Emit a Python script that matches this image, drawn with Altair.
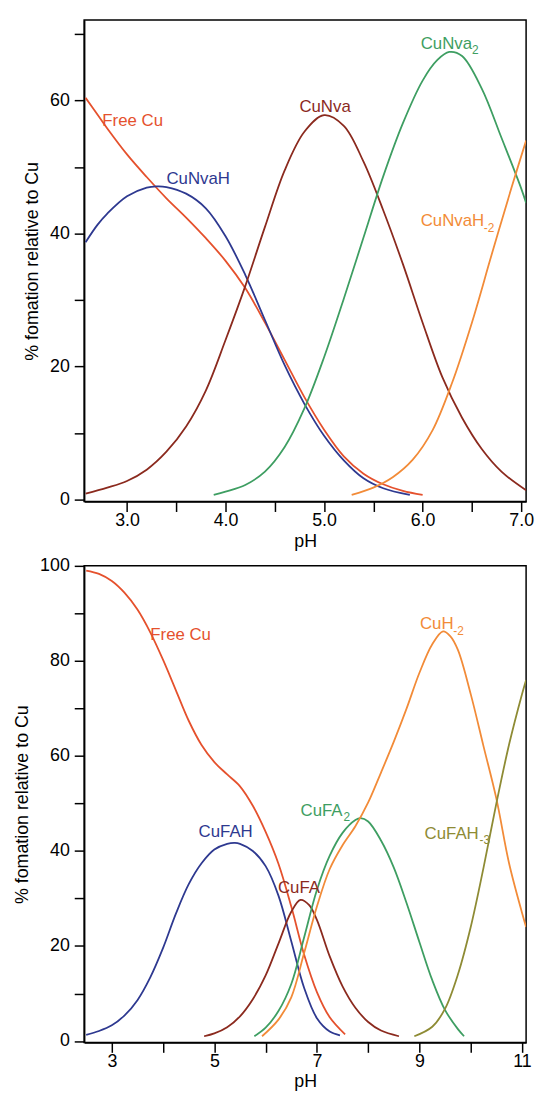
import altair as alt
import pandas as pd

FONT = "Liberation Sans"
YTITLE = "% fomation relative to Cu"

# ---------------- Top panel: Cu(II) – Nva ----------------
t_free_ph = [2.58, 2.7, 2.8, 3.0, 3.2, 3.4, 3.6, 3.8, 4.0, 4.2, 4.4, 4.6, 4.8, 5.0, 5.2, 5.4, 5.6, 5.8, 6.0]
t_free_val = [60.4, 57.9, 55.8, 51.9, 48.5, 45.3, 42.4, 39.3, 35.9, 31.8, 26.6, 21.0, 15.4, 10.5, 6.5, 3.9, 2.3, 1.3, 0.7]

t_h_ph = [2.58, 2.7, 2.8, 3.0, 3.2, 3.3, 3.4, 3.6, 3.8, 4.0, 4.2, 4.4, 4.6, 4.8, 5.0, 5.2, 5.4, 5.6, 5.87]
t_h_val = [38.7, 41.3, 43.0, 45.6, 46.9, 47.1, 47.0, 46.0, 43.8, 39.6, 33.8, 27.0, 20.2, 14.4, 9.6, 5.9, 3.2, 1.7, 0.7]

t_ml_ph = [2.58, 2.8, 3.0, 3.2, 3.4, 3.6, 3.8, 4.0, 4.2, 4.4, 4.6, 4.8, 5.0, 5.2, 5.4, 5.6, 5.8, 6.0, 6.2, 6.4, 6.6, 6.8, 7.05]
t_ml_val = [0.9, 1.8, 2.8, 4.5, 7.2, 11.0, 16.4, 24.0, 32.1, 41.0, 49.5, 55.3, 57.8, 56.2, 50.8, 43.5, 35.4, 26.6, 18.4, 12.3, 7.6, 4.2, 1.4]

t_ml2_ph = [3.88, 4.0, 4.2, 4.4, 4.6, 4.8, 5.0, 5.2, 5.4, 5.6, 5.8, 6.0, 6.15, 6.27, 6.4, 6.6, 6.8, 7.0, 7.05]
t_ml2_val = [0.7, 1.2, 2.2, 4.2, 7.9, 13.7, 21.4, 30.2, 39.4, 48.6, 56.6, 63.0, 66.1, 67.3, 66.7, 61.8, 54.4, 46.8, 44.6]

t_mh2_ph = [5.28, 5.5, 5.7, 5.9, 6.1, 6.3, 6.5, 6.7, 6.9, 7.05]
t_mh2_val = [0.7, 1.8, 3.4, 6.0, 10.4, 17.6, 26.6, 36.8, 46.8, 54.0]

top_names = ["Free Cu", "CuNvaH", "CuNva", "CuNva2", "CuNvaH-2"]
top_colors = ["#E5512D", "#2E3990", "#8B2A1E", "#3E9E62", "#F28B38"]
top_series = [
    ("Free Cu", t_free_ph, t_free_val),
    ("CuNvaH", t_h_ph, t_h_val),
    ("CuNva", t_ml_ph, t_ml_val),
    ("CuNva2", t_ml2_ph, t_ml2_val),
    ("CuNvaH-2", t_mh2_ph, t_mh2_val),
]

# labels (main text) and subscripts
top_lab_text = ["Free Cu", "CuNvaH", "CuNva", "CuNva", "CuNvaH"]
top_lab_series = ["Free Cu", "CuNvaH", "CuNva", "CuNva2", "CuNvaH-2"]
top_lab_ph = [2.75, 3.40, 5.01, 5.98, 5.98]
top_lab_pct = [56.2, 47.5, 58.3, 67.8, 41.2]
top_lab_align = ["left", "left", "center", "left", "left"]
top_sub_text = ["2", "-2"]
top_sub_series = ["CuNva2", "CuNvaH-2"]
top_sub_ph = [6.50, 6.62]
top_sub_pct = [67.0, 40.3]

top_xticks = [3.0, 3.5, 4.0, 4.5, 5.0, 5.5, 6.0, 6.5, 7.0]
top_yticks = [0, 10, 20, 30, 40, 50, 60, 70]

# ---------------- Bottom panel: Cu(II) – FA ----------------
b_free_ph = [2.5, 2.75, 3.0, 3.25, 3.5, 3.75, 4.0, 4.25, 4.5, 4.75, 5.0, 5.25, 5.5, 5.75, 6.0, 6.25, 6.5, 6.75, 7.0, 7.25, 7.55]
b_free_val = [99.0, 98.3, 96.8, 94.3, 90.8, 86.0, 80.2, 73.8, 67.4, 62.3, 58.7, 56.1, 53.6, 49.5, 44.0, 37.3, 28.3, 18.2, 10.3, 5.0, 1.4]

b_h_ph = [2.5, 2.75, 3.0, 3.25, 3.5, 3.75, 4.0, 4.25, 4.5, 4.75, 5.0, 5.25, 5.4, 5.5, 5.75, 6.0, 6.25, 6.5, 6.75, 7.0, 7.25, 7.45]
b_h_val = [1.3, 2.1, 3.3, 5.4, 8.6, 13.4, 19.6, 26.8, 33.0, 37.4, 40.3, 41.5, 41.7, 41.5, 40.0, 36.8, 30.6, 21.0, 11.2, 4.8, 2.0, 1.2]

b_ml_ph = [4.8, 5.0, 5.25, 5.5, 5.75, 6.0, 6.25, 6.5, 6.68, 6.85, 7.0, 7.25, 7.5, 7.75, 8.0, 8.25, 8.6]
b_ml_val = [1.0, 1.6, 2.9, 5.2, 8.8, 13.8, 20.5, 27.2, 29.7, 28.6, 25.5, 17.8, 11.5, 7.0, 4.0, 2.2, 1.0]

b_ml2_ph = [5.78, 6.0, 6.25, 6.5, 6.75, 7.0, 7.25, 7.5, 7.75, 7.85, 8.0, 8.25, 8.5, 8.75, 9.0, 9.25, 9.5, 9.75, 9.87]
b_ml2_val = [1.0, 2.8, 6.3, 12.0, 21.8, 31.8, 39.0, 43.8, 46.5, 46.9, 46.2, 42.2, 36.5, 29.0, 20.8, 12.8, 6.5, 2.5, 1.0]

b_mh2_ph = [5.93, 6.25, 6.5, 6.75, 7.0, 7.25, 7.5, 7.75, 8.0, 8.25, 8.5, 8.75, 9.0, 9.25, 9.46, 9.6, 9.75, 10.0, 10.25, 10.5, 10.75, 11.0, 11.08]
b_mh2_val = [1.0, 4.5, 9.2, 18.5, 28.3, 36.2, 41.2, 45.2, 50.2, 56.5, 63.0, 70.0, 77.5, 83.5, 86.2, 85.2, 82.3, 73.0, 62.0, 51.0, 37.3, 27.0, 24.0]

b_mh3_ph = [8.9, 9.25, 9.5, 9.75, 10.0, 10.25, 10.5, 10.75, 11.0, 11.08]
b_mh3_val = [1.0, 3.0, 6.8, 14.0, 24.0, 36.5, 50.0, 62.5, 73.0, 76.0]

bot_names = ["Free Cu", "CuFAH", "CuFA", "CuFA2", "CuH-2", "CuFAH-3"]
bot_colors = ["#E5512D", "#2E3990", "#8B2A1E", "#3E9E62", "#F28B38", "#8E8B34"]
bot_series = [
    ("Free Cu", b_free_ph, b_free_val),
    ("CuFAH", b_h_ph, b_h_val),
    ("CuFA", b_ml_ph, b_ml_val),
    ("CuFA2", b_ml2_ph, b_ml2_val),
    ("CuH-2", b_mh2_ph, b_mh2_val),
    ("CuFAH-3", b_mh3_ph, b_mh3_val),
]

bot_lab_text = ["Free Cu", "CuH", "CuFA", "CuFAH", "CuFA", "CuFAH"]
bot_lab_series = ["Free Cu", "CuH-2", "CuFA2", "CuFAH", "CuFA", "CuFAH-3"]
bot_lab_ph = [3.75, 9.01, 6.68, 5.22, 6.65, 9.10]
bot_lab_pct = [84.3, 86.7, 47.3, 43.0, 31.2, 42.5]
bot_lab_align = ["left", "left", "left", "center", "center", "left"]
bot_sub_text = ["-2", "2", "-3"]
bot_sub_series = ["CuH-2", "CuFA2", "CuFAH-3"]
bot_sub_ph = [9.66, 7.52, 10.17]
bot_sub_pct = [85.4, 46.2, 41.5]

bot_xticks = [3, 4, 5, 6, 7, 8, 9, 10, 11]
bot_yticks = [0, 10, 20, 30, 40, 50, 60, 70, 80, 90, 100]


def long_table(series):
    rows = []
    for name, ph, val in series:
        for p, v in zip(ph, val):
            rows.append({"series": name, "pH": p, "pct": v})
    return pd.DataFrame(rows)


def panel(series, names, colors, lab, sub, xdom, ydom, xticks, xexpr, yticks, w, h):
    df = long_table(series)
    lab_df = pd.DataFrame({"text": lab[0], "series": lab[1], "pH": lab[2], "pct": lab[3], "align": lab[4]})
    sub_df = pd.DataFrame({"text": sub[0], "series": sub[1], "pH": sub[2], "pct": sub[3]})
    color = alt.Color("series:N", scale=alt.Scale(domain=names, range=colors), legend=None)
    x = alt.X(
        "pH:Q",
        scale=alt.Scale(domain=xdom, nice=False, zero=False),
        axis=alt.Axis(values=xticks, labelExpr=xexpr, title="pH", titlePadding=3,
                      labelPadding=0),
    )
    y = alt.Y(
        "pct:Q",
        scale=alt.Scale(domain=ydom, nice=False, zero=False),
        axis=alt.Axis(values=yticks, labelExpr="datum.value % 20 === 0 ? datum.label : ''",
                      title=YTITLE, titlePadding=8, labelPadding=5),
    )
    lines = alt.Chart(df).mark_line(strokeWidth=1.8, interpolate="catmull-rom", clip=True).encode(
        x=x, y=y, color=color, detail="series:N"
    )
    left = alt.Chart(lab_df).transform_filter("datum.align === 'left'").mark_text(
        align="left", baseline="alphabetic", font=FONT, fontSize=17
    ).encode(x="pH:Q", y="pct:Q", text="text:N", color=color)
    center = alt.Chart(lab_df).transform_filter("datum.align === 'center'").mark_text(
        align="center", baseline="alphabetic", font=FONT, fontSize=17
    ).encode(x="pH:Q", y="pct:Q", text="text:N", color=color)
    subs = alt.Chart(sub_df).mark_text(
        align="left", baseline="alphabetic", font=FONT, fontSize=12
    ).encode(x="pH:Q", y="pct:Q", text="text:N", color=color)
    return alt.layer(lines, left, center, subs).properties(width=w, height=h)


top = panel(
    top_series, top_names, top_colors,
    (top_lab_text, top_lab_series, top_lab_ph, top_lab_pct, top_lab_align),
    (top_sub_text, top_sub_series, top_sub_ph, top_sub_pct),
    [2.565, 7.05], [-0.3, 72.1], top_xticks,
    "datum.value % 1 === 0 ? format(datum.value, '.1f') : ''",
    top_yticks, 447, 487,
)
bottom = panel(
    bot_series, bot_names, bot_colors,
    (bot_lab_text, bot_lab_series, bot_lab_ph, bot_lab_pct, bot_lab_align),
    (bot_sub_text, bot_sub_series, bot_sub_ph, bot_sub_pct),
    [2.46, 11.08], [-0.3, 100], bot_xticks,
    "datum.value % 2 === 1 ? datum.label : ''",
    bot_yticks, 447, 482,
)

chart = (
    alt.vconcat(top, bottom, spacing=5)
    .resolve_scale(x="independent", y="independent", color="independent")
    .properties(padding={"left": 5, "top": 5, "right": 0, "bottom": 0}, background="white")
    .configure_view(stroke="black", strokeWidth=1.5)
    .configure_axis(
        grid=False,
        domainColor="black", domainWidth=1.6,
        tickColor="black", tickWidth=1.5, tickSize=10,
        labelFont=FONT, labelFontSize=18, labelColor="black",
        titleFont=FONT, titleFontSize=18, titleFontWeight="normal", titleColor="black",
        labelFlush=False, labelOverlap=False, labelBound=False,
    )
)

chart.save("out.html", embed_options={"renderer": "svg", "actions": False})
